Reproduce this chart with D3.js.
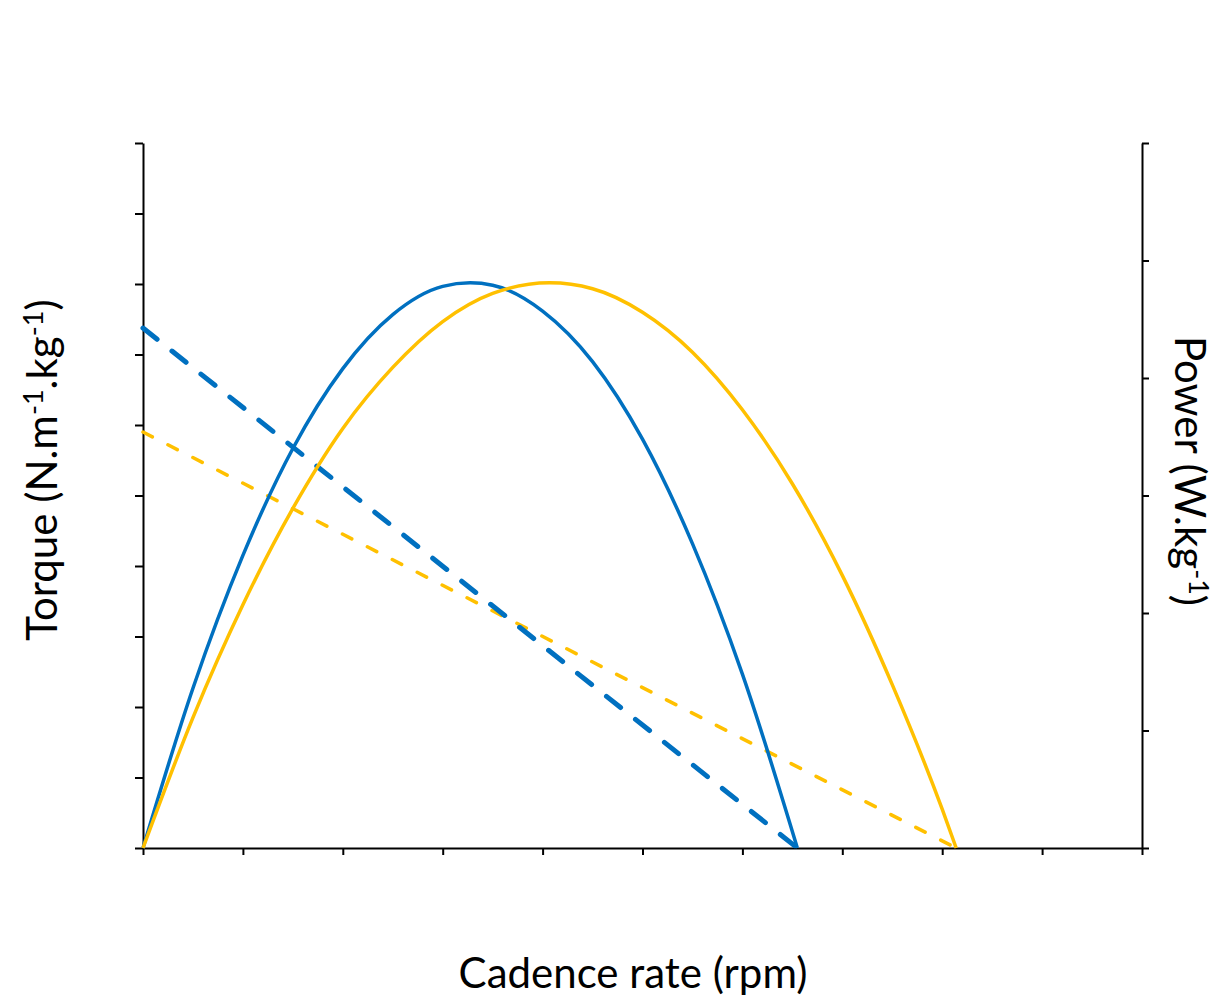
<!DOCTYPE html>
<html>
<head>
<meta charset="utf-8">
<script src="https://cdn.jsdelivr.net/npm/d3@7"></script>
<style>
  body { margin: 0; background: #fff; }
  text { font-family: Lato, "Open Sans", sans-serif; fill: #000; }
</style>
</head>
<body>
<div id="chart"></div>
<script>
// cadence ticks (rpm), torque ticks, power ticks
var cadenceTicks = [0, 20, 40, 60, 80, 100, 120, 140, 160, 180, 200];
var torqueTicks = [0, 0.2, 0.4, 0.6, 0.8, 1.0, 1.2, 1.4, 1.6, 1.8, 2.0];
var powerTicks = [0, 1, 2, 3, 4, 5, 6];

// torque-cadence lines (dashed)
var torqueCadenceBlue = [0, 131];
var torqueBlue = [1.475, 0];
var torqueCadenceYellow = [0, 162.8];
var torqueYellow = [1.18, 0];

// power-cadence curves (solid)
var powerCadenceBlue = [0, 10, 20, 30, 40, 50, 60, 65.5, 70, 80, 90, 100, 110, 120, 131];
var powerBlue = [0, 1.36, 2.49, 3.40, 4.08, 4.54, 4.78, 4.81, 4.79, 4.57, 4.14, 3.48, 2.59, 1.48, 0];
var powerCadenceYellow = [0, 10, 20, 30, 40, 50, 60, 70, 81.4, 90, 100, 110, 120, 130, 140, 150, 160, 162.8];
var powerYellow = [0, 1.11, 2.07, 2.89, 3.57, 4.09, 4.48, 4.72, 4.81, 4.76, 4.56, 4.22, 3.73, 3.10, 2.32, 1.39, 0.33, 0];

var W = 1219, H = 1000;
var margin = {top: 143, right: 77, bottom: 152, left: 143},
    width = W - margin.left - margin.right,
    height = H - margin.top - margin.bottom;

var blue = "#0070C0", yellow = "#FFC000";

var x = d3.scaleLinear().domain([0, 200]).range([0, width]);
var yT = d3.scaleLinear().domain([0, 2]).range([height, 0]);
var yP = d3.scaleLinear().domain([0, 6]).range([height, 0]);

var svg = d3.select("#chart").append("svg")
    .attr("width", W)
    .attr("height", H)
  .append("g")
    .attr("transform", "translate(" + margin.left + "," + margin.top + ")");

function zip(a, b) { return a.map(function(v, i) { return [v, b[i]]; }); }

// axes
function styleAxis(g) {
  g.selectAll("path, line").attr("stroke", "#000").attr("stroke-width", 2);
  g.selectAll("text").remove();
}

svg.append("g")
    .call(d3.axisLeft(yT).tickValues(torqueTicks).tickSize(8).tickSizeOuter(0).tickFormat(""))
    .call(styleAxis);

svg.append("g")
    .attr("transform", "translate(" + width + ",0)")
    .call(d3.axisRight(yP).tickValues(powerTicks).tickSize(7).tickSizeOuter(0).tickFormat(""))
    .call(styleAxis);

svg.append("g")
    .attr("transform", "translate(0," + height + ")")
    .call(d3.axisBottom(x).tickValues(cadenceTicks).tickSize(7).tickSizeOuter(0).tickFormat(""))
    .call(styleAxis);

// lines
var lineT = d3.line()
    .x(function(d) { return x(d[0]); })
    .y(function(d) { return yT(d[1]); });
var lineP = d3.line()
    .curve(d3.curveMonotoneX)
    .x(function(d) { return x(d[0]); })
    .y(function(d) { return yP(d[1]); });

svg.append("path")
    .datum(zip(torqueCadenceYellow, torqueYellow))
    .attr("d", lineT)
    .attr("fill", "none")
    .attr("stroke", yellow)
    .attr("stroke-width", 3.5)
    .attr("stroke-linecap", "round")
    .attr("stroke-dasharray", "10.5,17.5");

svg.append("path")
    .datum(zip(torqueCadenceBlue, torqueBlue))
    .attr("d", lineT)
    .attr("fill", "none")
    .attr("stroke", blue)
    .attr("stroke-width", 5)
    .attr("stroke-linecap", "round")
    .attr("stroke-dasharray", "18,19");

svg.append("path")
    .datum(zip(powerCadenceBlue, powerBlue))
    .attr("d", lineP)
    .attr("fill", "none")
    .attr("stroke", blue)
    .attr("stroke-width", 3.5);

svg.append("path")
    .datum(zip(powerCadenceYellow, powerYellow))
    .attr("d", lineP)
    .attr("fill", "none")
    .attr("stroke", yellow)
    .attr("stroke-width", 3.5);

// axis titles
var fs = 42, sup = 27, shift = 14;

svg.append("text")
    .attr("x", 633 - margin.left)
    .attr("y", 988 - margin.top)
    .style("text-anchor", "middle")
    .style("font-size", fs + "px")
    .text("Cadence rate (rpm)");

var tl = svg.append("text")
    .attr("transform", "translate(" + (57 - margin.left) + "," + (470 - margin.top) + ")rotate(-90)")
    .style("text-anchor", "middle")
    .style("font-size", fs + "px");
tl.append("tspan").text("Torque (N.m");
tl.append("tspan").attr("dy", -shift).style("font-size", sup + "px").text("-1");
tl.append("tspan").attr("dy", shift).text(".kg");
tl.append("tspan").attr("dy", -shift).style("font-size", sup + "px").text("-1");
tl.append("tspan").attr("dy", shift).text(")");

var tr = svg.append("text")
    .attr("transform", "translate(" + (1175 - margin.left) + "," + (471 - margin.top) + ")rotate(90)")
    .style("text-anchor", "middle")
    .style("font-size", fs + "px");
tr.append("tspan").text("Power (W.kg");
tr.append("tspan").attr("dy", -shift).style("font-size", sup + "px").text("-1");
tr.append("tspan").attr("dy", shift).text(")");
</script>
</body>
</html>
